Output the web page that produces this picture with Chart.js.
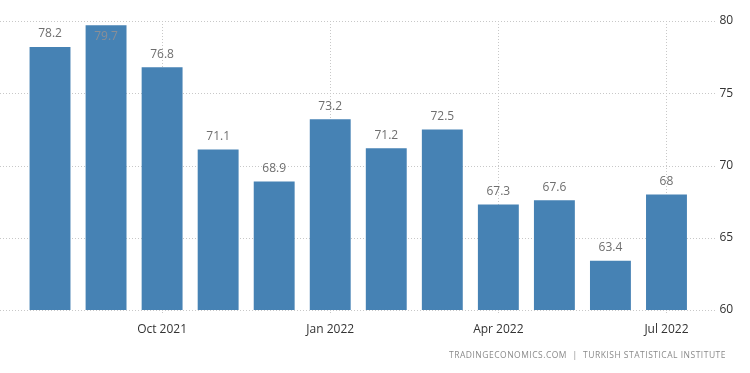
<!DOCTYPE html>
<html>
<head>
<meta charset="utf-8">
<script src="https://cdn.jsdelivr.net/npm/chart.js@4"></script>
<style>
  html, body { margin: 0; padding: 0; background: #fff; }
  #wrap { position: relative; width: 750px; height: 373px; }
  #source { position: absolute; right: 24px; top: 349px; font: 8.5px "Open Sans", sans-serif; letter-spacing: 0.5px; color: #8a8a8a; white-space: pre; }
</style>
</head>
<body>
<div id="wrap">
  <canvas id="c" width="750" height="373"></canvas>
  <div id="source">TRADINGECONOMICS.COM  |  TURKISH STATISTICAL INSTITUTE</div>
</div>
<script>
const categories = ["Aug 2021","Sep 2021","Oct 2021","Nov 2021","Dec 2021","Jan 2022","Feb 2022","Mar 2022","Apr 2022","May 2022","Jun 2022","Jul 2022"];
const values = [78.2, 79.7, 76.8, 71.1, 68.9, 73.2, 71.2, 72.5, 67.3, 67.6, 63.4, 68];
const xTickLabels = ["Oct 2021", "Jan 2022", "Apr 2022", "Jul 2022"];
const yTicks = [60, 65, 70, 75, 80];

const gridPlugin = {
  id: 'grids',
  beforeDatasetsDraw(chart) {
    const ctx = chart.ctx, y = chart.scales.y, x = chart.scales.x, ca = chart.chartArea;
    ctx.save();
    ctx.strokeStyle = '#c8c8c8';
    ctx.lineWidth = 1;
    ctx.setLineDash([1, 2]);
    yTicks.forEach(v => {
      const py = Math.round(y.getPixelForValue(v)) + 0.5;
      ctx.beginPath(); ctx.moveTo(0, py); ctx.lineTo(716, py); ctx.stroke();
    });
    categories.forEach((c, i) => {
      if (xTickLabels.includes(c)) {
        const px = Math.round(x.getPixelForValue(i)) + 0.5;
        ctx.beginPath(); ctx.moveTo(px, ca.top); ctx.lineTo(px, ca.bottom + 5); ctx.stroke();
      }
    });
    ctx.restore();
  }
};

const labelPlugin = {
  id: 'vlabels',
  afterDatasetsDraw(chart) {
    const ctx = chart.ctx, meta = chart.getDatasetMeta(0), ca = chart.chartArea;
    ctx.save();
    ctx.font = '12px "Open Sans", sans-serif';
    ctx.textAlign = 'center';
    meta.data.forEach((bar, i) => {
      const txt = String(values[i]);
      if (bar.y - 22 < ca.top) {
        ctx.fillStyle = '#8a8f96';
        ctx.textBaseline = 'top';
        ctx.fillText(txt, bar.x, bar.y + 5);
      } else {
        ctx.fillStyle = '#6e6e6e';
        ctx.textBaseline = 'bottom';
        ctx.fillText(txt, bar.x, bar.y - 7);
      }
    });
    ctx.restore();
  }
};

new Chart(document.getElementById('c'), {
  type: 'bar',
  data: {
    labels: categories,
    datasets: [{
      data: values,
      backgroundColor: '#4682b4',
      borderWidth: 0,
      barPercentage: 0.73,
      categoryPercentage: 1.0
    }]
  },
  options: {
    responsive: false,
    animation: false,
    devicePixelRatio: 1,
    layout: { padding: { left: 22, top: 21, right: 0, bottom: 0 } },
    plugins: { legend: { display: false }, tooltip: { enabled: false } },
    scales: {
      x: {
        grid: { display: false },
        border: { display: false },
        afterFit(s) { s.height = 63; s.paddingLeft = 0; s.paddingRight = 0; },
        ticks: {
          autoSkip: false,
          maxRotation: 0,
          padding: 4,
          color: '#333',
          font: { family: 'Open Sans', size: 12 },
          callback(v, i) { const c = categories[i]; return xTickLabels.includes(c) ? c : ''; }
        }
      },
      y: {
        position: 'right',
        min: 60, max: 80,
        afterFit(s) { s.width = 55.5; s.paddingTop = 0; s.paddingBottom = 0; },
        grid: { display: false, drawTicks: false },
        border: { display: false },
        afterBuildTicks(s) { s.ticks = yTicks.map(v => ({ value: v })); },
        ticks: {
          padding: 25,
          color: '#333',
          font: { family: 'Open Sans', size: 12 }
        }
      }
    }
  },
  plugins: [gridPlugin, labelPlugin]
});
</script>
</body>
</html>
